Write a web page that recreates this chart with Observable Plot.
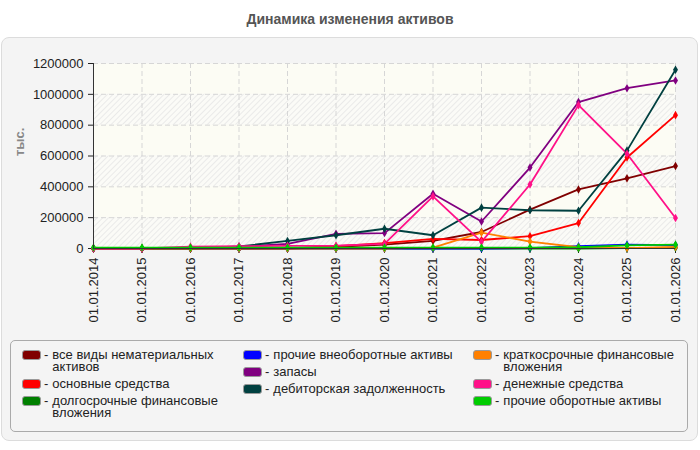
<!DOCTYPE html>
<html><head><meta charset="utf-8">
<script src="https://cdn.jsdelivr.net/npm/d3@7"></script>
<script src="https://cdn.jsdelivr.net/npm/@observablehq/plot@0.6"></script>
<style>
body{margin:0;width:700px;height:450px;background:#fff;font-family:"Liberation Sans",Arial,sans-serif;position:relative;overflow:hidden}
#title{position:absolute;top:11px;left:0;width:700px;text-align:center;font-weight:bold;font-size:14px;color:#555}
#panel{position:absolute;left:1px;top:37px;width:695px;height:402px;background:#f4f4f4;border:1px solid #dcdcdc;border-radius:8px}
#chart{position:absolute;left:0;top:37px}
#legend{position:absolute;left:10px;top:340px;width:678px;height:92px;border:1px solid #aaa;border-radius:5px;box-sizing:border-box}
.col{position:absolute;top:8px}
.item{display:flex;align-items:flex-start;font-size:13px;line-height:12px;color:#222;margin-bottom:5px}
.sw{width:17px;height:8px;border:1px solid #999;border-radius:3px;margin-top:1px;flex:none}
.dash{margin:0 4px 0 3px}
</style></head>
<body>
<div id="title">Динамика изменения активов</div>
<div id="panel"></div>
<div id="chart"></div>
<div id="legend"></div>
<script>
const years = [2014,2015,2016,2017,2018,2019,2020,2021,2022,2023,2024,2025,2026];
const yTicks = [0,200000,400000,600000,800000,1000000,1200000];

const seriesNames = [
  "все виды нематериальных активов",
  "основные средства",
  "долгосрочные финансовые вложения",
  "прочие внеоборотные активы",
  "запасы",
  "дебиторская задолженность",
  "краткосрочные финансовые вложения",
  "денежные средства",
  "прочие оборотные активы"
];
const seriesColors = ["#800000","#ff0000","#008000","#0000ff","#800080","#004040","#ff8000","#ff1088","#00cc00"];

const nematerial   = [0,0,0,0,0,10000,25000,50000,107000,252000,383000,455000,535000];
const osnovnye     = [0,0,0,0,0,15000,35000,62000,55000,80000,165000,590000,865000];
const dolgosroch   = [0,0,0,0,0,0,0,0,0,0,0,2000,5000];
const prochieVneob = [0,0,0,0,0,0,0,0,0,3000,15000,25000,22000];
const zapasy       = [0,0,5000,10000,30000,95000,100000,355000,175000,525000,950000,1040000,1090000];
const debitor      = [0,0,0,13000,49000,86000,128000,86000,265000,248000,245000,635000,1160000];
const kratkosroch  = [0,0,0,0,0,0,0,6000,103000,45000,8000,3000,10000];
const denezhnye    = [0,0,12000,15000,17000,18000,30000,338000,43000,415000,930000,615000,198000];
const prochieObor  = [6000,6000,6000,6000,6000,6000,6000,6000,6000,6000,8000,20000,25000];

const seriesValues = [nematerial,osnovnye,dolgosroch,prochieVneob,zapasy,debitor,kratkosroch,denezhnye,prochieObor];

const table = [];
seriesNames.forEach((name, s) => {
  years.forEach((yr, i) => table.push({series: name, year: yr, value: seriesValues[s][i]}));
});

// alternating background bands from the y ticks
const bands = [];
for (let i = 0; i < yTicks.length - 1; i++) {
  bands.push({y1: yTicks[i], y2: yTicks[i+1], hatched: i % 2 === 0});
}

const plot = Plot.plot({
  width: 700,
  height: 291,
  marginLeft: 93,
  marginRight: 25,
  marginTop: 26,
  marginBottom: 80,
  style: {background: "none", fontSize: "13px", fontFamily: "'Liberation Sans', Arial, sans-serif", color: "#222"},
  x: {domain: [2014, 2026], ticks: years, tickFormat: d => "01.01." + d, tickRotate: -90, tickSize: 5, tickPadding: 4, label: null},
  y: {domain: [0, 1200000], ticks: yTicks, tickFormat: d => String(d), tickSize: 5, tickPadding: 5, label: null},
  color: {domain: seriesNames, range: seriesColors},
  marks: [
    Plot.frame({fill: "#fcfcf4"}),
    Plot.rect(bands.filter(b => b.hatched), {y1: "y1", y2: "y2", fill: "url(#hatch)"}),
    Plot.ruleX(years, {stroke: "#d6d6d6", strokeDasharray: "5,3"}),
    Plot.ruleY(yTicks, {stroke: "#d6d6d6", strokeDasharray: "5,3"}),
    Plot.line(table, {x: "year", y: "value", z: "series", stroke: "series", strokeWidth: 1.8}),
    Plot.dot(table, {x: "year", y: "value", fill: "series", symbol: "diamond", r: 2.6}),
    Plot.ruleX([2014], {stroke: "#333"}),
    Plot.ruleY([0], {stroke: "#333"}),
    Plot.text(["тыс."], {frameAnchor: "left", dx: -74, rotate: -90, fill: "#888", fontWeight: "bold", fontSize: 13})
  ]
});

// hatch pattern definition
const svg = d3.select(plot);
const defs = svg.insert("defs", ":first-child");
const pat = defs.append("pattern").attr("id", "hatch").attr("patternUnits", "userSpaceOnUse")
  .attr("width", 4).attr("height", 4).attr("patternTransform", "rotate(45)");
pat.append("rect").attr("width", 4).attr("height", 4).attr("fill", "#fbfbf7");
pat.append("line").attr("x1", 0).attr("y1", 0).attr("x2", 0).attr("y2", 4).attr("stroke", "#e6e6e6").attr("stroke-width", 1.6);

document.getElementById("chart").appendChild(plot);

// legend: three columns
const legendCols = [[0,1,2],[3,4,5],[6,7,8]];
const colLeft = [11, 232, 462];
const labelWidth = [172, 200, 182];
const legend = document.getElementById("legend");
legendCols.forEach((col, c) => {
  const div = document.createElement("div");
  div.className = "col";
  div.style.left = colLeft[c] + "px";
  col.forEach(s => {
    const item = document.createElement("div");
    item.className = "item";
    item.innerHTML = `<span class="sw" style="background:${seriesColors[s]}"></span><span class="dash">-</span><span style="width:${labelWidth[c]}px">${seriesNames[s]}</span>`;
    div.appendChild(item);
  });
  legend.appendChild(div);
});
</script>
</body></html>
